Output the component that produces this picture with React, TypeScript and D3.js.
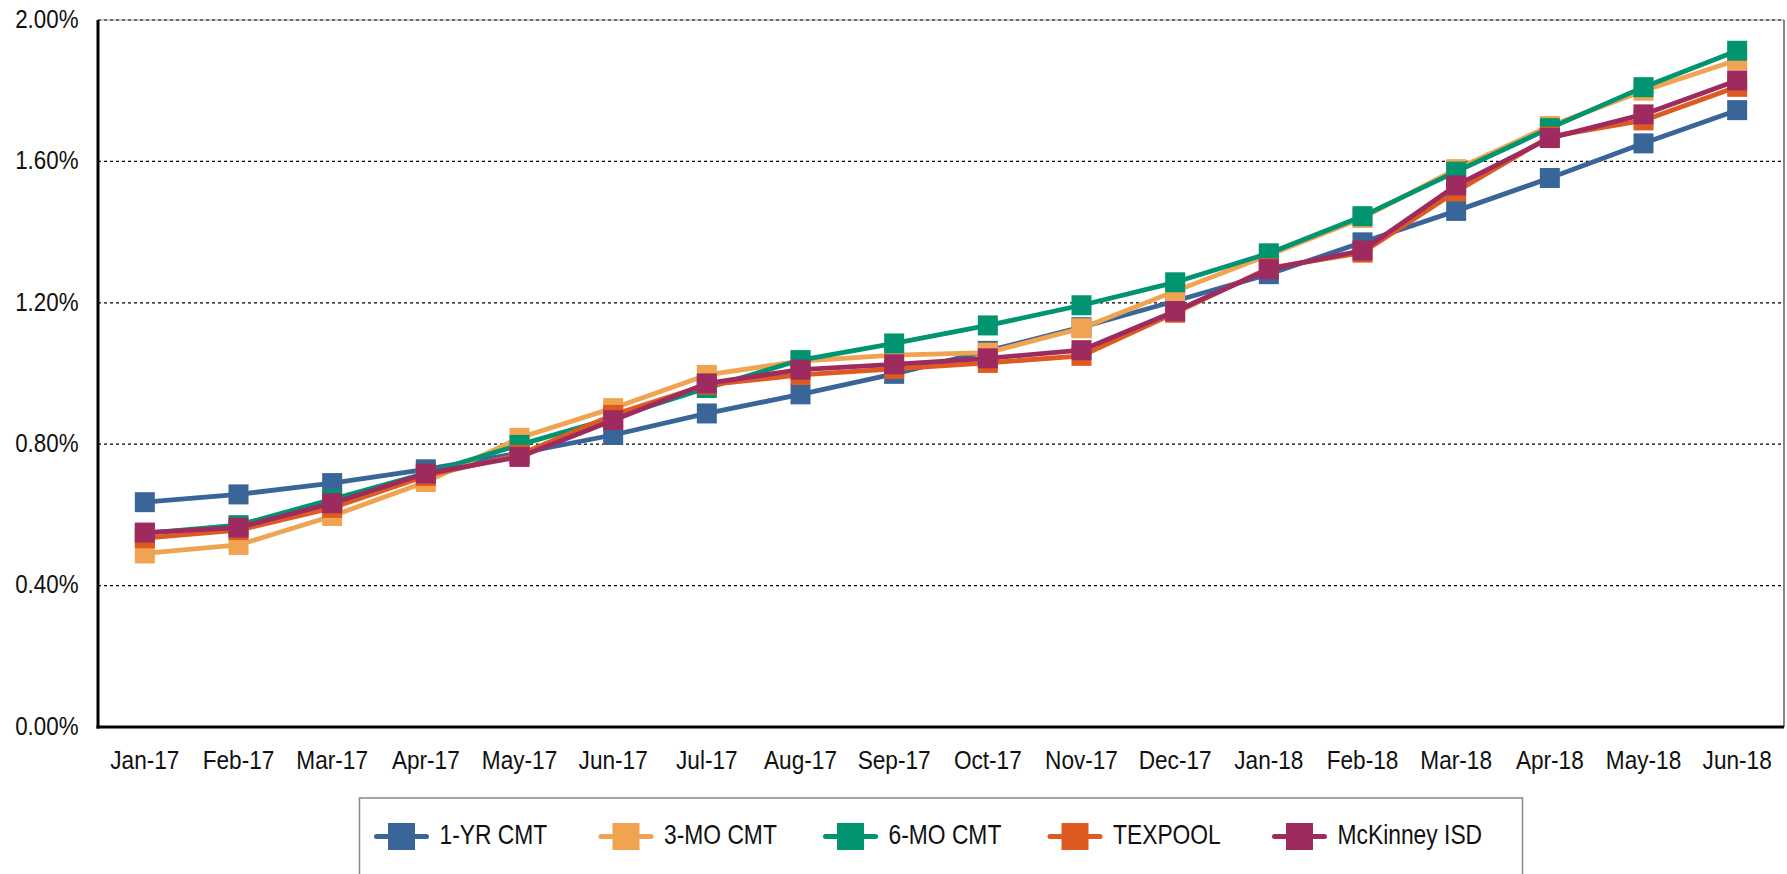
import React from 'react';
import * as d3 from 'd3';

const MONTHS = ['Jan-17', 'Feb-17', 'Mar-17', 'Apr-17', 'May-17', 'Jun-17', 'Jul-17', 'Aug-17', 'Sep-17',
  'Oct-17', 'Nov-17', 'Dec-17', 'Jan-18', 'Feb-18', 'Mar-18', 'Apr-18', 'May-18', 'Jun-18'];

const ONE_YR = [0.636, 0.658, 0.690, 0.729, 0.775, 0.826, 0.887, 0.941, 0.999, 1.064, 1.131, 1.205, 1.281, 1.371, 1.460, 1.553, 1.651, 1.745];
const THREE_MO = [0.491, 0.515, 0.597, 0.693, 0.818, 0.902, 0.996, 1.035, 1.052, 1.059, 1.128, 1.233, 1.335, 1.440, 1.578, 1.700, 1.800, 1.887];
const SIX_MO = [0.548, 0.571, 0.644, 0.718, 0.798, 0.875, 0.959, 1.038, 1.085, 1.136, 1.193, 1.258, 1.340, 1.445, 1.571, 1.694, 1.810, 1.913];
const TEXPOOL = [0.534, 0.557, 0.620, 0.710, 0.770, 0.883, 0.968, 0.996, 1.013, 1.030, 1.050, 1.172, 1.298, 1.342, 1.515, 1.670, 1.716, 1.811];
const MCKINNEY = [0.550, 0.564, 0.633, 0.717, 0.764, 0.868, 0.972, 1.011, 1.026, 1.043, 1.066, 1.176, 1.295, 1.348, 1.532, 1.666, 1.733, 1.829];

const SERIES_NAMES = ['1-YR CMT', '3-MO CMT', '6-MO CMT', 'TEXPOOL', 'McKinney ISD'];
const SERIES_VALUES = [ONE_YR, THREE_MO, SIX_MO, TEXPOOL, MCKINNEY];
const COLORS = ['#3a6598', '#f0a451', '#009470', '#de5a20', '#9e2b5f'];

const Y_TICKS = [0, 0.4, 0.8, 1.2, 1.6, 2.0];

const FONT = '"Liberation Sans", Arial, sans-serif';

// narrow-looking text (original uses a condensed Arial)
function Label({ x, y, anchor = 'start', size, sx, children }: any) {
  return (
    <text transform={`translate(${x},${y}) scale(${sx},1)`} textAnchor={anchor} dominantBaseline="middle"
      fontFamily={FONT} fontSize={size} fill="#111">{children}</text>
  );
}

export default function App() {
  const W = 1787, H = 874;
  const left = 98, right = 1784, top = 20, bottom = 727;

  const x = d3.scaleBand<string>().domain(MONTHS).range([left, right]);
  const cx = (m: string) => (x(m) as number) + x.bandwidth() / 2;
  const y = d3.scaleLinear().domain([0, 2.0]).range([bottom, top]);

  const line = d3.line<number>()
    .x((_, i) => cx(MONTHS[i]))
    .y(d => y(d));

  const M = 20; // marker size
  const legendX0 = 401.5, legendStep = 224.5, legendY = 836.5;

  return (
    <div>
      <style>{'body{margin:0}'}</style>
      <svg width={W} height={H} style={{ display: 'block', background: '#fff' }}>
        {/* grid */}
        {Y_TICKS.filter(t => t > 0).map(t => (
          <line key={t} x1={left} x2={right} y1={y(t)} y2={y(t)}
            stroke="#000" strokeWidth={1.3} strokeDasharray="3,3" />
        ))}
        <line x1={left} x2={right} y1={top} y2={top} stroke="#999" strokeWidth={1} />
        <line x1={right} x2={right} y1={top} y2={bottom} stroke="#333" strokeWidth={1.2} />

        {/* series */}
        {SERIES_VALUES.map((vals, si) => (
          <g key={SERIES_NAMES[si]}>
            <path d={line(vals) || ''} fill="none" stroke={COLORS[si]} strokeWidth={4.8} strokeLinejoin="round" />
            {vals.map((v, i) => (
              <rect key={i} x={cx(MONTHS[i]) - M / 2} y={y(v) - M / 2} width={M} height={M} fill={COLORS[si]} />
            ))}
          </g>
        ))}

        {/* axes */}
        <line x1={left} x2={left} y1={top} y2={bottom + 1.5} stroke="#000" strokeWidth={3} />
        <line x1={left - 1.5} x2={right} y1={bottom} y2={bottom} stroke="#000" strokeWidth={3} />

        {Y_TICKS.map(t => (
          <Label key={t} x={78.5} y={y(t) + 1} anchor="end" size={26} sx={0.86}>{t.toFixed(2) + '%'}</Label>
        ))}
        {MONTHS.map(m => (
          <Label key={m} x={cx(m)} y={762} anchor="middle" size={26} sx={0.87}>{m}</Label>
        ))}

        {/* legend */}
        <rect x={359.5} y={798} width={1163} height={100} fill="#fff" stroke="#888" strokeWidth={1.5} />
        {SERIES_NAMES.map((name, si) => {
          const lx = legendX0 + si * legendStep;
          return (
            <g key={name}>
              <line x1={lx - 25} x2={lx + 25} y1={legendY} y2={legendY} stroke={COLORS[si]} strokeWidth={5} strokeLinecap="round" />
              <rect x={lx - 13.5} y={legendY - 13.5} width={27} height={27} fill={COLORS[si]} />
              <Label x={lx + 38} y={legendY} size={27.5} sx={0.83}>{name}</Label>
            </g>
          );
        })}
      </svg>
    </div>
  );
}
